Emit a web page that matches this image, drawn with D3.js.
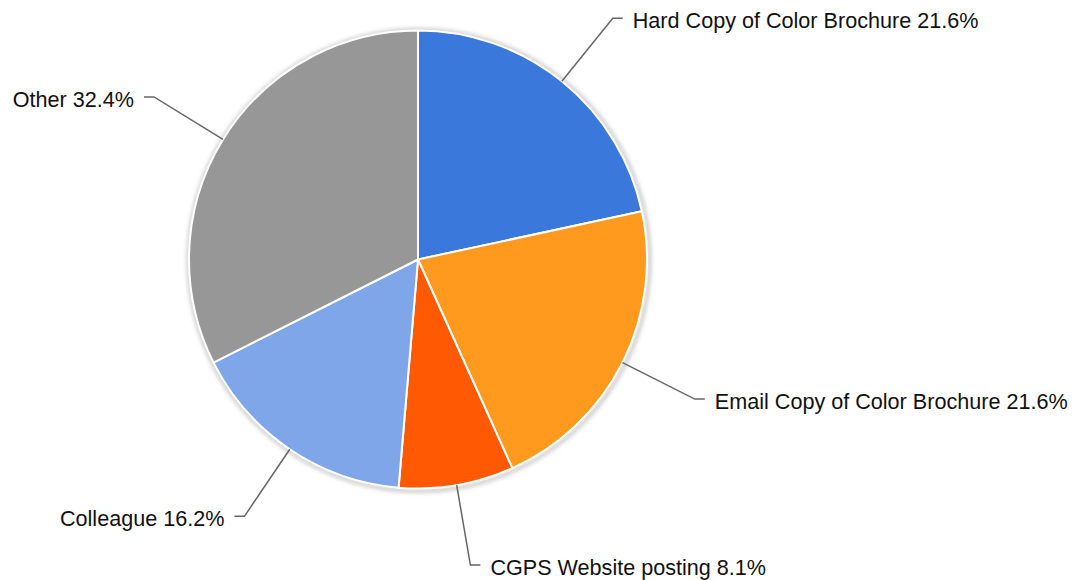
<!DOCTYPE html>
<html><head><meta charset="utf-8">
<script src="https://cdn.jsdelivr.net/npm/d3@7"></script>
<style>html,body{margin:0;padding:0;background:#fff;}</style>
</head><body>
<svg id="chart" width="1084" height="580"></svg>
<script>
const categories = ["Hard Copy of Color Brochure", "Email Copy of Color Brochure", "CGPS Website posting", "Colleague", "Other"];
const counts = [8, 8, 3, 6, 12];
const percentLabels = ["21.6%", "21.6%", "8.1%", "16.2%", "32.4%"];
const colors = ["#3a78dc", "#ff9a1f", "#ff5a03", "#7ea6e8", "#979798"];

const W = 1084, H = 580;
const cx = 418, cy = 259.5, R = 229;
const svg = d3.select("#chart");

const defs = svg.append("defs");
const f = defs.append("filter").attr("id","sh").attr("x","-10%").attr("y","-10%").attr("width","120%").attr("height","120%");
f.append("feGaussianBlur").attr("stdDeviation", 2);

const g = svg.append("g").attr("transform", `translate(${cx},${cy})`);
g.append("circle").attr("r", R + 1.5).attr("cx", 1).attr("cy", 1)
  .attr("fill", "none").attr("stroke", "#bbb").attr("stroke-width", 3).attr("filter", "url(#sh)");

const pie = d3.pie().sort(null).value(d => d)(counts);
const arc = d3.arc().innerRadius(0).outerRadius(R);
const color = d3.scaleOrdinal().domain(categories).range(colors);

g.selectAll("path.slice").data(pie).join("path")
  .attr("class", "slice")
  .attr("d", arc)
  .attr("fill", (d, i) => color(categories[i]))
  .attr("stroke", "#fff").attr("stroke-width", 2).attr("stroke-linejoin", "round");

const rElbow = 310;
pie.forEach((d, i) => {
  const a = (d.startAngle + d.endAngle) / 2;
  const sx = R * Math.sin(a), sy = -R * Math.cos(a);
  const ex = rElbow * Math.sin(a), ey = -rElbow * Math.cos(a);
  const right = Math.sin(a) >= 0;
  const hx = ex + (right ? 10 : -10);
  g.append("polyline")
    .attr("points", `${sx},${sy} ${ex},${ey} ${hx},${ey}`)
    .attr("fill", "none").attr("stroke", "#666").attr("stroke-width", 1.5);
  g.append("text")
    .attr("x", hx + (right ? 10 : -10)).attr("y", ey)
    .attr("dy", "0.45em")
    .attr("text-anchor", right ? "start" : "end")
    .attr("font-family", "Liberation Sans, Arial, sans-serif")
    .attr("font-size", 21.6)
    .attr("fill", "#111")
    .text(categories[i] + " " + percentLabels[i]);
});
</script>
</body></html>
